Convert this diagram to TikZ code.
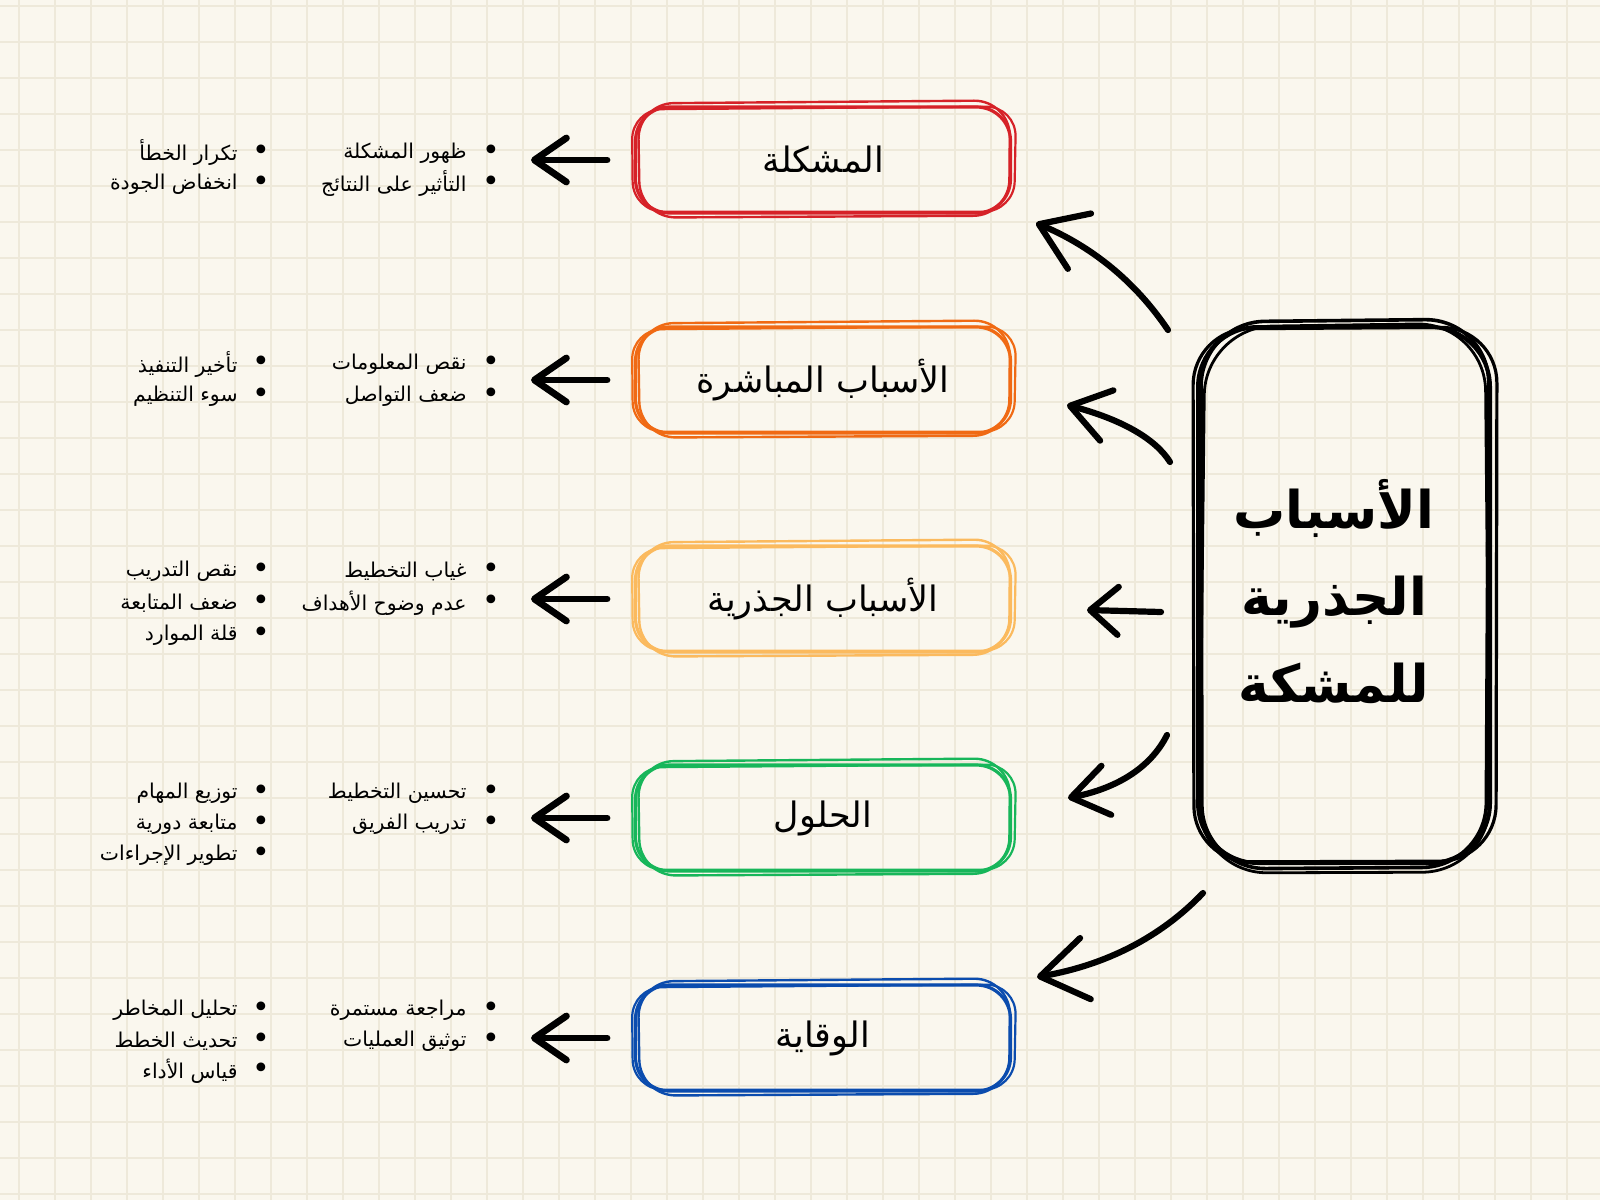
\documentclass[tikz,border=0pt]{standalone}
\usepackage{fontspec}
\newfontfamily\arabicfont[Script=Arabic]{DejaVu Sans}
\TeXXeTstate=1
\usetikzlibrary{arrows.meta,calc}
\definecolor{bg}{HTML}{FAF7EE}
\definecolor{gridc}{HTML}{EEE9DA}
\definecolor{cred}{HTML}{D62228}
\definecolor{corange}{HTML}{F06A14}
\definecolor{cyellow}{HTML}{FBBA5E}
\definecolor{cgreen}{HTML}{17B65A}
\definecolor{cblue}{HTML}{0B4CAE}
\newcommand\boxpasses[2]{%
  \draw[#2, line width=1.2pt, rounded corners=18pt] ($(#1.north west)+(4,-2)$) -- ($(#1.north east)+(-2,-5)$) -- ($(#1.south east)+(-3,1)$) -- ($(#1.south west)+(6,3)$) -- cycle;
  \draw[#2, line width=1.1pt, rounded corners=15pt] ($(#1.north west)+(-2,4)$) -- ($(#1.north east)+(4,1)$) -- ($(#1.south east)+(2,-3)$) -- ($(#1.south west)+(-1,-3)$) -- cycle;
}
\begin{document}
\begin{tikzpicture}[x=0.5pt,y=-0.5pt,
  catbox/.style={draw=#1, line width=1.6pt, rounded corners=17pt, minimum width=187.5pt, minimum height=53pt, text=black, font=\arabicfont\fontsize{17.5pt}{20pt}\selectfont},
  rootbox/.style={draw=black, line width=2pt, rounded corners=30pt, minimum width=146pt, minimum height=268pt},
  titletext/.style={align=center, inner sep=0pt, font=\arabicfont\bfseries\fontsize{26pt}{43.5pt}\selectfont},
  item/.style={anchor=east, inner sep=0pt, text=black, font=\arabicfont\fontsize{10.2pt}{12pt}\selectfont},
  bul/.style={inner sep=0pt, text=black, font=\arabicfont\fontsize{15pt}{15pt}\selectfont},
  arr/.style={line width=3.1pt, line cap=round, -{Straight Barb[length=#1,round]}},
  sarr/.style={line width=3.4pt, line cap=round, -{Straight Barb[length=16pt,width=22pt,round]}}
]
\useasboundingbox (0,0) rectangle (1600,1200);
\fill[bg] (0,0) rectangle (1600,1200);
\foreach \x in {19,55,...,1600} \draw[gridc, line width=0.8pt] (\x,0) -- (\x,1200);
\foreach \y in {6,42,...,1200} \draw[gridc, line width=0.8pt] (0,\y) -- (1600,\y);

% category boxes
\node[catbox=cred]    (b1) at (823,160)  {\beginR المشكلة\endR};
\node[catbox=corange] (b2) at (823,380)  {\beginR الأسباب المباشرة\endR};
\node[catbox=cyellow] (b3) at (823,599)  {\beginR الأسباب الجذرية\endR};
\node[catbox=cgreen]  (b4) at (823,818)  {\beginR الحلول\endR};
\node[catbox=cblue]   (b5) at (823,1038) {\beginR الوقاية\endR};
\boxpasses{b1}{cred}
\boxpasses{b2}{corange}
\boxpasses{b3}{cyellow}
\boxpasses{b4}{cgreen}
\boxpasses{b5}{cblue}

% root box
\node[rootbox] (root) at (1344,595) {};
\node[titletext] at (1334,592) {\beginR الأسباب\endR\\\beginR الجذرية\endR\\\beginR للمشكة\endR};
\draw[black, line width=1.8pt, rounded corners=32pt] ($(root.north west)+(5,-3)$) -- ($(root.north east)+(-3,-6)$) -- ($(root.south east)+(-6,2)$) -- ($(root.south west)+(6,4)$) -- cycle;
\draw[black, line width=1.6pt, rounded corners=28pt] ($(root.north west)+(-3,4)$) -- ($(root.north east)+(5,2)$) -- ($(root.south east)+(4,-4)$) -- ($(root.south west)+(-2,-3)$) -- cycle;
\draw[black, line width=1.4pt, rounded corners=34pt] ($(root.north west)+(9,2)$) -- ($(root.north east)+(-7,-2)$) -- ($(root.south east)+(-2,7)$) -- ($(root.south west)+(3,8)$) -- cycle;

% left arrows
\foreach \i/\yy in {1/160,2/380,3/599,4/818,5/1038}{
  \coordinate (la\i) at (607,\yy);
  \coordinate (lt\i) at (531,\yy);
  \draw[sarr] (la\i) -- (lt\i);
}

% arrows from root
\coordinate (s1) at (1168,330);  \coordinate (e1) at (1036,223);
\coordinate (s2) at (1170,462);  \coordinate (e2) at (1067,405);
\coordinate (s3) at (1161,612);  \coordinate (e3) at (1087,610);
\coordinate (s4) at (1167,735);  \coordinate (e4) at (1068,798);
\coordinate (s5) at (1203,893);  \coordinate (e5) at (1037,977);
\draw[arr={22pt,width=30pt}] (s1) .. controls (1135,281) and (1091,246) .. (e1);
\draw[arr={19pt,width=26pt}] (s2) .. controls (1155,438) and (1120,419) .. (e2);
\draw[arr={14pt,width=24pt}] (s3) -- (e3);
\draw[arr={18pt,width=25pt}] (s4) .. controls (1151,767) and (1118,788) .. (e4);
\draw[arr={23pt,width=31pt}] (s5) .. controls (1161,937) and (1106,965) .. (e5);

% bullet lists
\foreach \n/\yy in {11/153,12/184,21/364,22/396,31/571,32/603,41/793,42/824,51/1010,52/1041}
  \node[bul] (rd\n) at (491,\yy) {•};
\foreach \n/\yy in {11/153,12/184,21/364,22/396,31/571,32/603,33/635,41/793,42/824,43/855,51/1010,52/1041,53/1071}
  \node[bul] (ld\n) at (261,\yy) {•};

\node[item] (r11) at (467,153) {\beginR ظهور المشكلة\endR};
\node[item] (r12) at (467,184) {\beginR التأثير على النتائج\endR};
\node[item] (l11) at (238,153) {\beginR تكرار الخطأ\endR};
\node[item] (l12) at (238,184) {\beginR انخفاض الجودة\endR};

\node[item] (r21) at (467,364) {\beginR نقص المعلومات\endR};
\node[item] (r22) at (467,396) {\beginR ضعف التواصل\endR};
\node[item] (l21) at (238,364) {\beginR تأخير التنفيذ\endR};
\node[item] (l22) at (238,396) {\beginR سوء التنظيم\endR};

\node[item] (r31) at (467,571) {\beginR غياب التخطيط\endR};
\node[item] (r32) at (467,603) {\beginR عدم وضوح الأهداف\endR};
\node[item] (l31) at (238,571) {\beginR نقص التدريب\endR};
\node[item] (l32) at (238,603) {\beginR ضعف المتابعة\endR};
\node[item] (l33) at (238,635) {\beginR قلة الموارد\endR};

\node[item] (r41) at (467,793) {\beginR تحسين التخطيط\endR};
\node[item] (r42) at (467,824) {\beginR تدريب الفريق\endR};
\node[item] (l41) at (238,793) {\beginR توزيع المهام\endR};
\node[item] (l42) at (238,824) {\beginR متابعة دورية\endR};
\node[item] (l43) at (238,855) {\beginR تطوير الإجراءات\endR};

\node[item] (r51) at (467,1010) {\beginR مراجعة مستمرة\endR};
\node[item] (r52) at (467,1041) {\beginR توثيق العمليات\endR};
\node[item] (l51) at (238,1010) {\beginR تحليل المخاطر\endR};
\node[item] (l52) at (238,1041) {\beginR تحديث الخطط\endR};
\node[item] (l53) at (238,1071) {\beginR قياس الأداء\endR};
\end{tikzpicture}
\end{document}
